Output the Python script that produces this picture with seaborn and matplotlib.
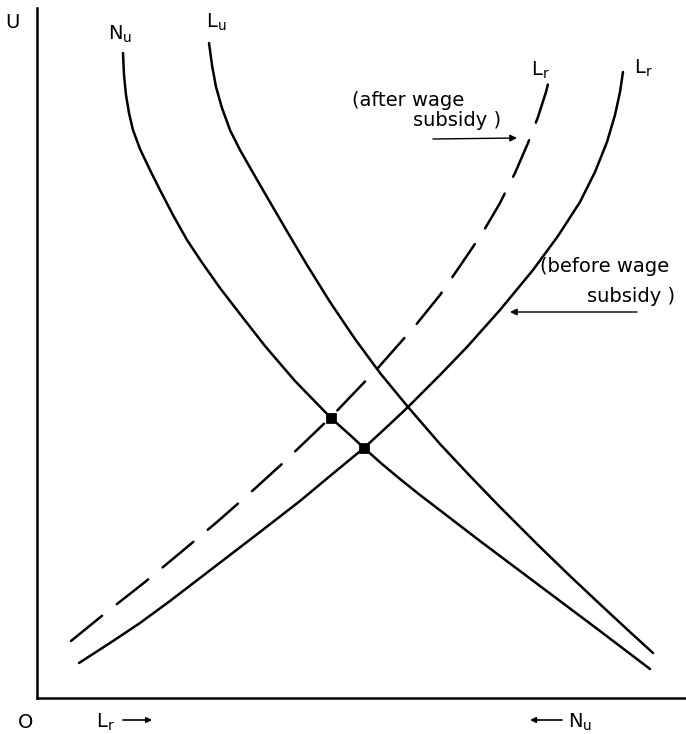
import matplotlib
matplotlib.use("Agg")
import matplotlib.pyplot as plt
import seaborn as sns

sns.set_style("white")
plt.rcParams['font.family'] = ['DejaVu Sans']

# Curves (x = quantity along horizontal axis, y = U)
nu_x = [86, 87, 89, 92, 96, 103, 113, 123, 136, 150, 166, 183, 203, 228, 258, 294, 313, 327, 345, 363, 383, 400, 443, 483, 523, 563, 613]
nu_y = [645, 623, 603, 585, 568, 549, 528, 508, 483, 458, 434, 410, 384, 352, 317, 280, 263, 250, 234, 219, 203, 190, 157, 127, 97, 67, 29]

lu_x = [172, 175, 179, 185, 193, 203, 215, 230, 251, 270, 293, 318, 343, 371, 403, 433, 463, 500, 533, 566, 593, 616]
lu_y = [655, 633, 611, 590, 568, 548, 527, 501, 465, 433, 396, 359, 325, 291, 254, 222, 191, 154, 122, 91, 66, 45]

lr_before_x = [42, 73, 103, 133, 163, 193, 223, 263, 293, 327, 353, 371, 403, 430, 463, 496, 521, 543, 558, 570, 578, 583, 586]
lr_before_y = [35, 55, 75, 97, 120, 143, 166, 197, 222, 250, 274, 291, 323, 351, 388, 428, 462, 496, 526, 556, 583, 606, 626]

lr_after_x = [34, 66, 108, 143, 180, 213, 246, 294, 340, 378, 403, 423, 446, 463, 478, 491, 501, 509, 515]
lr_after_y = [57, 83, 116, 145, 176, 205, 235, 281, 329, 372, 403, 432, 466, 495, 525, 555, 581, 606, 630]

# Equilibrium points
eq_x = [294, 327]
eq_y = [280, 250]

W, H = 686, 734
fig = plt.figure(figsize=(W / 100, H / 100), dpi=100)
ax = fig.add_axes([37 / W, 36 / H, 649 / W, 690 / H])
ax.set_xlim(0, 649)
ax.set_ylim(0, 690)

lw = 1.8
common = dict(sort=False, estimator=None, color='black', lw=lw, ax=ax,
              solid_joinstyle='round', solid_capstyle='round', dash_capstyle='round')
sns.lineplot(x=nu_x, y=nu_y, **common)
sns.lineplot(x=lu_x, y=lu_y, **common)
sns.lineplot(x=lr_before_x, y=lr_before_y, **common)
sns.lineplot(x=lr_after_x, y=lr_after_y, linestyle=(0, (16, 7.5)), **common)
sns.scatterplot(x=eq_x, y=eq_y, marker='s', s=45, color='black', edgecolor='black', ax=ax, zorder=5)

for side in ['top', 'right']:
    ax.spines[side].set_visible(False)
for side in ['left', 'bottom']:
    ax.spines[side].set_color('black')
    ax.spines[side].set_linewidth(1.8)
ax.set_xticks([])
ax.set_yticks([])

fs = 14
tkw = dict(fontsize=fs, color='black', clip_on=False)
ax.text(-25, 675, "U", ha='center', va='center', **tkw)
ax.text(83, 664, r"N$_\mathregular{u}$", ha='center', va='center', **tkw)
ax.text(179, 676, r"L$_\mathregular{u}$", ha='center', va='center', **tkw)
ax.text(503, 628, r"L$_\mathregular{r}$", ha='center', va='center', **tkw)
ax.text(606, 630, r"L$_\mathregular{r}$", ha='center', va='center', **tkw)

ax.text(315, 598, "(after wage", ha='left', va='center', **tkw)
ax.text(376, 578, "subsidy )", ha='left', va='center', **tkw)
ax.annotate("", xy=(480, 560), xytext=(396, 559),
            arrowprops=dict(arrowstyle='-|>', color='black', lw=1, mutation_scale=10,
                            shrinkA=0, shrinkB=0), annotation_clip=False)

ax.text(503, 431, "(before wage", ha='left', va='center', **tkw)
ax.text(550, 402, "subsidy )", ha='left', va='center', **tkw)
ax.annotate("", xy=(473, 386), xytext=(600, 386),
            arrowprops=dict(arrowstyle='-|>', color='black', lw=1, mutation_scale=10,
                            shrinkA=0, shrinkB=0), annotation_clip=False)

ax.text(-11, -24, "O", ha='center', va='center', **tkw)
ax.text(68, -24, r"L$_\mathregular{r}$", ha='center', va='center', **tkw)
ax.annotate("", xy=(115, -22), xytext=(86, -22),
            arrowprops=dict(arrowstyle='-|>', color='black', lw=1.2, mutation_scale=8,
                            shrinkA=0, shrinkB=0), annotation_clip=False)
ax.text(543, -24, r"N$_\mathregular{u}$", ha='center', va='center', **tkw)
ax.annotate("", xy=(493, -22), xytext=(525, -22),
            arrowprops=dict(arrowstyle='-|>', color='black', lw=1.2, mutation_scale=8,
                            shrinkA=0, shrinkB=0), annotation_clip=False)

fig.savefig("out.png", dpi=100)
